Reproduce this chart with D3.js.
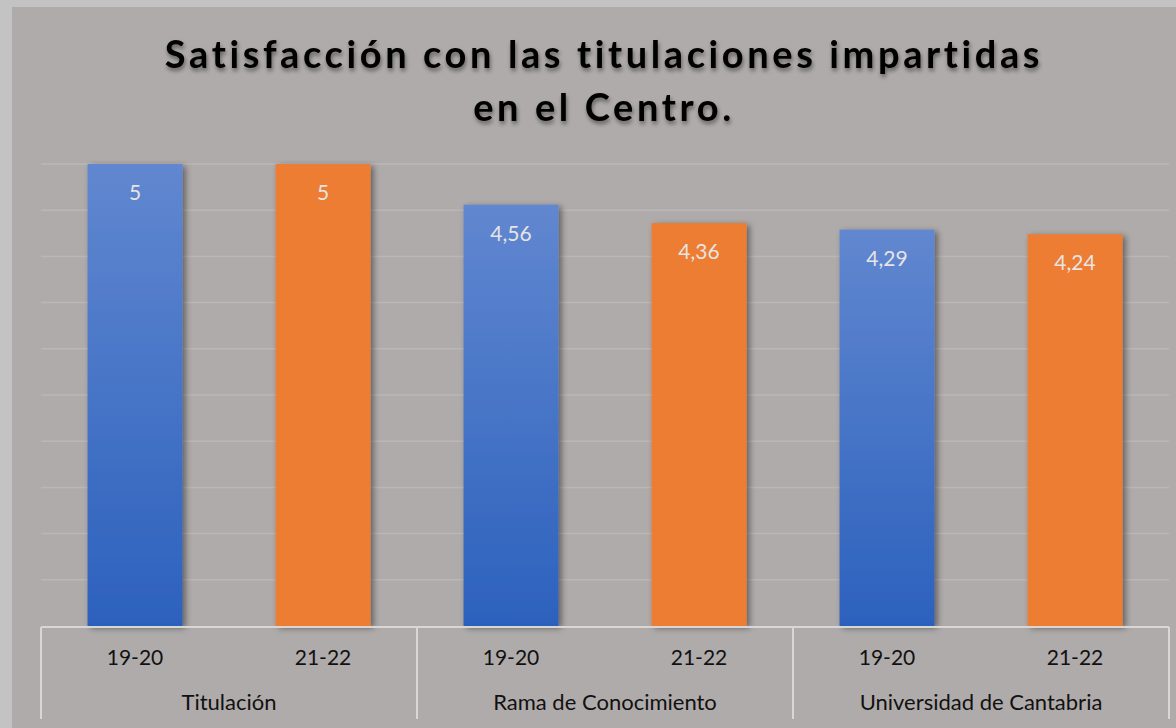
<!DOCTYPE html>
<meta charset="utf-8">
<style>
    body { margin: 0; background: #c3c3c3; }
    svg { display: block; }
    .title { font-family: Lato, "Open Sans", sans-serif; font-weight: bold; font-size: 38px; letter-spacing: 3.6px; fill: #000; }
    .lbl { font-family: Lato, "Noto Sans", sans-serif; font-size: 21px; fill: #e6e4e4; }
    .tick-lbl { font-family: Lato, "Noto Sans", sans-serif; font-size: 21px; fill: #111; }
    .grp-lbl { font-family: Lato, "Noto Sans", sans-serif; font-size: 22px; fill: #111; }
</style>
<svg width="1176" height="728"></svg>
<script src="https://d3js.org/d3.v7.min.js"></script>
<script>
    // data
    var groups = ["Titulación", "Rama de Conocimiento", "Universidad de Cantabria"];
    var years = ["19-20", "21-22"];
    var values1920 = [5, 4.56, 4.29];
    var values2122 = [5, 4.36, 4.24];
    var titleLines = ["Satisfacción con las titulaciones impartidas", "en el Centro."];

    var svg = d3.select("svg");

    // chart area background
    svg.append("rect")
        .attr("x", 12).attr("y", 7)
        .attr("width", 1164).attr("height", 721)
        .attr("fill", "#afabaa");

    var defs = svg.append("defs");
    var grad = defs.append("linearGradient")
        .attr("id", "blueGrad")
        .attr("x1", 0).attr("y1", 0).attr("x2", 0).attr("y2", 1);
    grad.append("stop").attr("offset", "0%").attr("stop-color", "#6187d0");
    grad.append("stop").attr("offset", "100%").attr("stop-color", "#2c61bd");

    var shadow = defs.append("filter").attr("id", "shadow")
        .attr("x", "-20%").attr("y", "-10%").attr("width", "150%").attr("height", "130%");
    shadow.append("feDropShadow")
        .attr("dx", 3).attr("dy", 2).attr("stdDeviation", 3)
        .attr("flood-color", "#000").attr("flood-opacity", 0.45);

    var tshadow = defs.append("filter").attr("id", "tshadow")
        .attr("x", "-5%").attr("y", "-20%").attr("width", "110%").attr("height", "160%");
    tshadow.append("feDropShadow")
        .attr("dx", 1).attr("dy", 3).attr("stdDeviation", 2)
        .attr("flood-color", "#000").attr("flood-opacity", 0.45);

    // title
    svg.append("text")
        .attr("class", "title")
        .attr("text-anchor", "middle")
        .attr("filter", "url(#tshadow)")
        .selectAll("tspan")
        .data(titleLines)
        .enter().append("tspan")
        .attr("x", 604)
        .attr("y", function (d, i) { return 68 + i * 53; })
        .text(function (d) { return d; });

    var x0 = d3.scaleBand().domain(groups).range([41, 1169]);
    var x1 = d3.scaleBand().domain(years).range([0, x0.bandwidth()])
        .paddingInner(0.495).paddingOuter(0.2475);
    var y = d3.scaleLinear().domain([0, 5]).range([626, 164]);

    // gridlines
    svg.append("g")
        .selectAll("line")
        .data(y.ticks(10).filter(function (d) { return d > 0; }))
        .enter().append("line")
        .attr("x1", 41).attr("x2", 1169)
        .attr("y1", function (d) { return y(d); })
        .attr("y2", function (d) { return y(d); })
        .attr("stroke", "#bbb7b6")
        .attr("stroke-width", 1.5);

    var rows = groups.map(function (g, i) {
        return [
            { group: g, year: years[0], value: values1920[i] },
            { group: g, year: years[1], value: values2122[i] }
        ];
    });
    var bars = [].concat.apply([], rows);

    svg.append("g")
        .selectAll("rect")
        .data(bars)
        .enter().append("rect")
        .attr("x", function (d) { return x0(d.group) + x1(d.year); })
        .attr("y", function (d) { return y(d.value); })
        .attr("width", x1.bandwidth())
        .attr("height", function (d) { return y(0) - y(d.value); })
        .attr("fill", function (d) { return d.year === years[0] ? "url(#blueGrad)" : "#ed7d31"; })
        .attr("filter", "url(#shadow)");

    svg.append("g")
        .selectAll("text")
        .data(bars)
        .enter().append("text")
        .attr("class", "lbl")
        .attr("text-anchor", "middle")
        .attr("x", function (d) { return x0(d.group) + x1(d.year) + x1.bandwidth() / 2; })
        .attr("y", function (d) { return y(d.value) + 36; })
        .text(function (d) { return String(d.value).replace(".", ","); });

    // category axis
    var axis = svg.append("g").attr("stroke", "#d9d7d6").attr("stroke-width", 2);
    axis.append("line")
        .attr("x1", 41).attr("x2", 1169)
        .attr("y1", 627).attr("y2", 627);
    var seps = groups.map(function (g) { return x0(g); }).concat([x0.range()[1]]);
    axis.selectAll(".sep")
        .data(seps)
        .enter().append("line")
        .attr("x1", function (d) { return d; })
        .attr("x2", function (d) { return d; })
        .attr("y1", 627).attr("y2", 719);

    svg.append("g")
        .selectAll("text")
        .data(bars)
        .enter().append("text")
        .attr("class", "tick-lbl")
        .attr("text-anchor", "middle")
        .attr("x", function (d) { return x0(d.group) + x1(d.year) + x1.bandwidth() / 2; })
        .attr("y", 665)
        .text(function (d) { return d.year; });

    svg.append("g")
        .selectAll("text")
        .data(groups)
        .enter().append("text")
        .attr("class", "grp-lbl")
        .attr("text-anchor", "middle")
        .attr("x", function (d) { return x0(d) + x0.bandwidth() / 2; })
        .attr("y", 710)
        .text(function (d) { return d; });
</script>
